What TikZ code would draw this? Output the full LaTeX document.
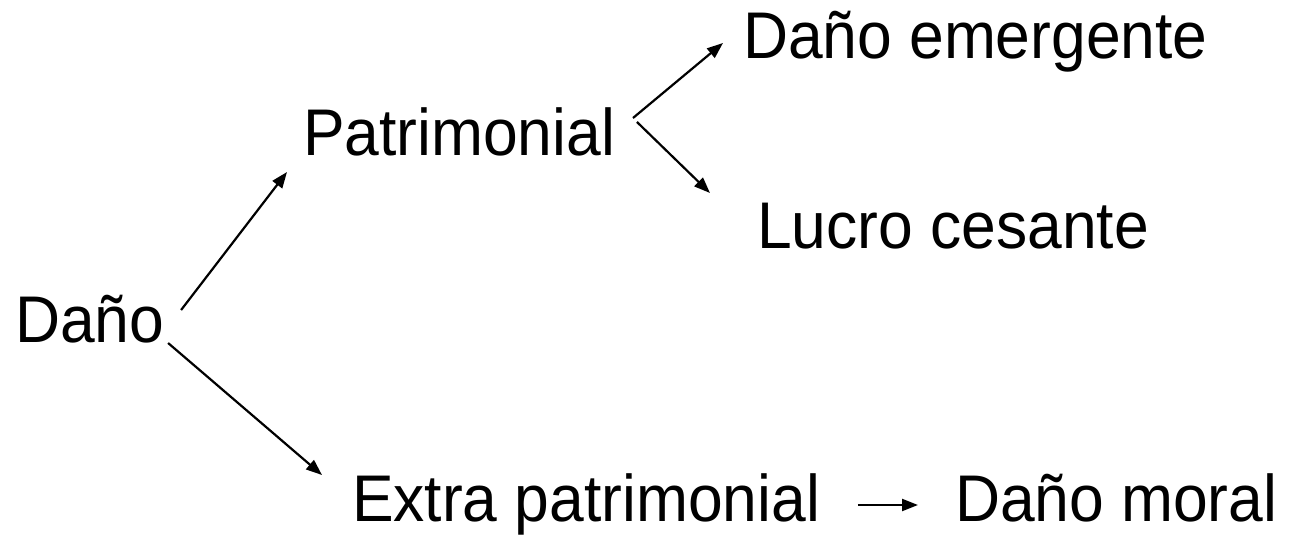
\documentclass[tikz,border=0pt]{standalone}
\usepackage{fontspec}
\setmainfont[FakeStretch=0.945]{Liberation Sans}
\usetikzlibrary{arrows.meta,calc}
\begin{document}
\begin{tikzpicture}[x=1pt,y=-1pt,
  lbl/.style={inner sep=0pt,outer sep=0pt,anchor=base west,font=\fontsize{66}{72}\selectfont},
  arr/.style={line width=2.2pt,-{Triangle[length=16pt,width=12pt]}}]
\useasboundingbox (0,0) rectangle (1292,536);
\node[lbl] (dano) at (15,342) {Daño};
\node[lbl] (pat) at (303,155) {Patrimonial};
\node[lbl] (dem) at (743,58) {Daño emergente};
\node[lbl] (lucro) at (757,248) {Lucro cesante};
\node[lbl] (extra) at (352,521) {Extra patrimonial};
\node[lbl] (moral) at (955,521) {Daño moral};
\draw[arr] ($(dano.base east)+(17,-32)$) -- ($(pat.base west)+(-16,17)$);
\draw[arr] ($(dano.base east)+(4,1)$) -- ($(extra.base west)+(-30,-46)$);
\draw[arr] ($(pat.base east)+(18,-37)$) -- ($(dem.base west)+(-20,-15)$);
\draw[arr] ($(pat.base east)+(22,-33)$) -- ($(lucro.base west)+(-47,-55)$);
\draw[arr] ($(extra.base east)+(38,-16)$) -- ($(moral.base west)+(-37,-16)$);
\end{tikzpicture}
\end{document}
